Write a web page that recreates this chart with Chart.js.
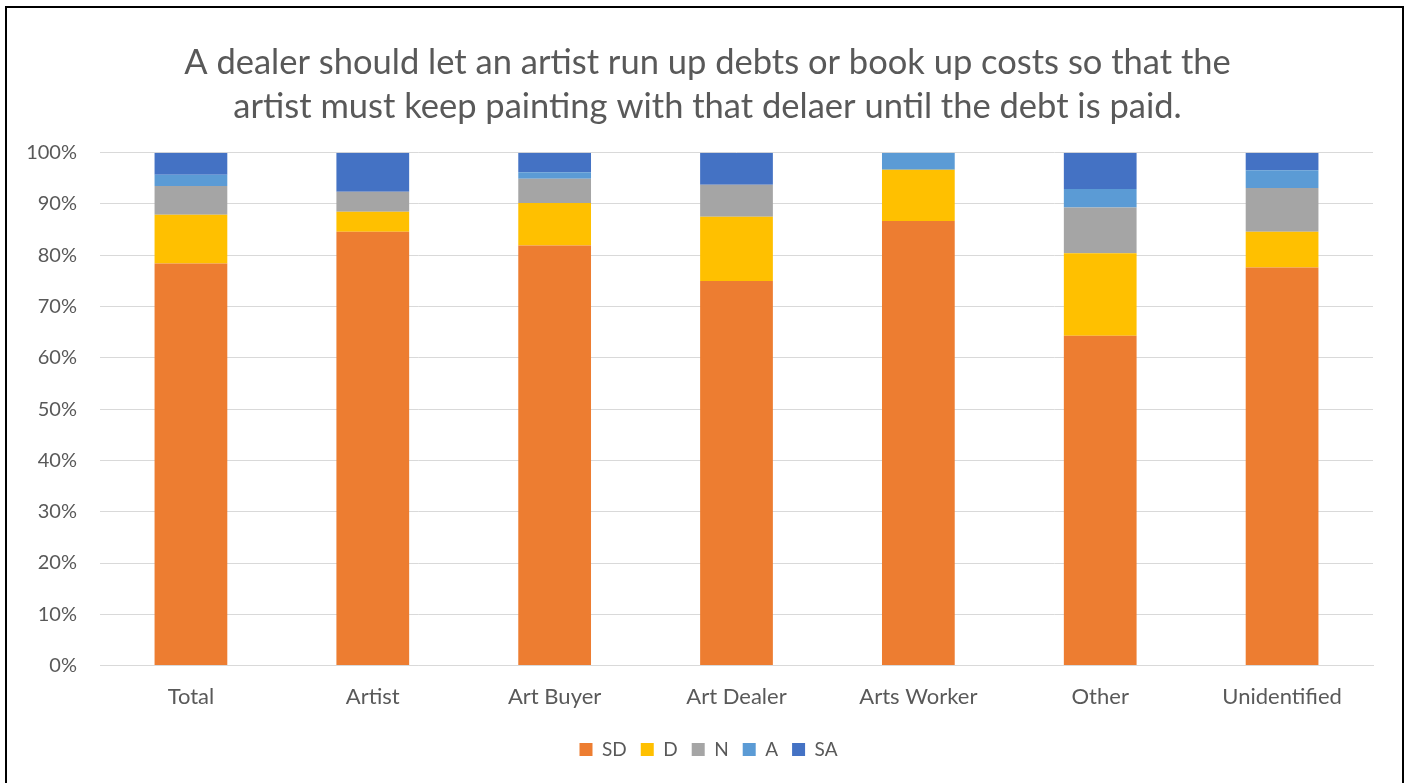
<!DOCTYPE html>
<html>
<head>
<meta charset="utf-8">
<script src="https://cdn.jsdelivr.net/npm/chart.js@4/dist/chart.umd.min.js"></script>
<style>
  body { margin: 0; background: #fff; }
  #wrap { position: absolute; left: 0; top: 0; width: 1406px; height: 783px; }
  #frame { position: absolute; left: 5px; top: 6px; width: 1395px; height: 800px; border: 2px solid #000; pointer-events: none; }
</style>
</head>
<body>
<div id="wrap"><canvas id="chart"></canvas></div>
<div id="frame"></div>
<script>
const categories = ['Total', 'Artist', 'Art Buyer', 'Art Dealer', 'Arts Worker', 'Other', 'Unidentified'];
const sd = [78.4, 84.6, 81.9, 75.0, 86.7, 64.3, 77.6];
const d  = [9.5, 3.9, 8.3, 12.5, 10.0, 16.1, 7.0];
const n  = [5.6, 3.9, 4.7, 6.25, 0, 8.9, 8.5];
const a  = [2.2, 0, 1.3, 0, 3.3, 3.6, 3.5];
const sa = [4.3, 7.6, 3.8, 6.25, 0, 7.1, 3.4];

const textColor = '#595959';
const gridColor = '#d9d9d9';
const font = 'Lato';

function series(label, data, color) {
    return {
        label: label,
        data: data,
        backgroundColor: color,
        borderWidth: 0,
        barPercentage: 0.4,
        categoryPercentage: 1.0
    };
}

// title and legend sit centred on the whole frame, not on the padded area
const centreShift = {
    id: 'centreShift',
    afterLayout(chart) {
        chart.titleBlock.left += 11;
        chart.titleBlock.right += 11;
        chart.legend.left += 12;
        chart.legend.right += 12;
    }
};

const ctx = document.getElementById('chart');
new Chart(ctx, {
    type: 'bar',
    data: {
        labels: categories,
        datasets: [
            series('SD', sd, '#ED7D31'),
            series('D', d, '#FFC000'),
            series('N', n, '#A5A5A5'),
            series('A', a, '#5B9BD5'),
            series('SA', sa, '#4472C4')
        ]
    },
    options: {
        responsive: true,
        maintainAspectRatio: false,
        animation: false,
        layout: { padding: { left: 20, right: 33, top: 40, bottom: 14 } },
        plugins: {
            title: {
                display: true,
                text: ['A dealer should let an artist run up debts or book up costs so that the',
                       'artist must keep painting with that delaer until the debt is paid.'],
                color: textColor,
                font: { family: font, size: 34.5, weight: 'normal', lineHeight: 1.3 },
                padding: { top: 0, bottom: 23 }
            },
            legend: {
                position: 'bottom',
                labels: {
                    color: textColor,
                    font: { family: font, size: 19 },
                    boxWidth: 13,
                    boxHeight: 13,
                    padding: 14
                }
            },
            tooltip: { enabled: false }
        },
        scales: {
            x: {
                stacked: true,
                afterFit: function(scale) {
                    scale.height += 6;
                },
                grid: { display: false },
                border: { color: gridColor },
                ticks: { color: textColor, font: { family: font, size: 22 }, padding: 10 }
            },
            y: {
                stacked: true,
                min: 0,
                max: 100,
                afterFit: function(scale) {
                    scale.width = 80;
                },
                grid: { color: gridColor, drawTicks: false },
                border: { display: false },
                ticks: {
                    stepSize: 10,
                    color: textColor,
                    font: { family: font, size: 20 },
                    padding: 23,
                    callback: function(value) {
                        return value + '%';
                    }
                }
            }
        }
    },
    plugins: [centreShift]
});
</script>
</body>
</html>
